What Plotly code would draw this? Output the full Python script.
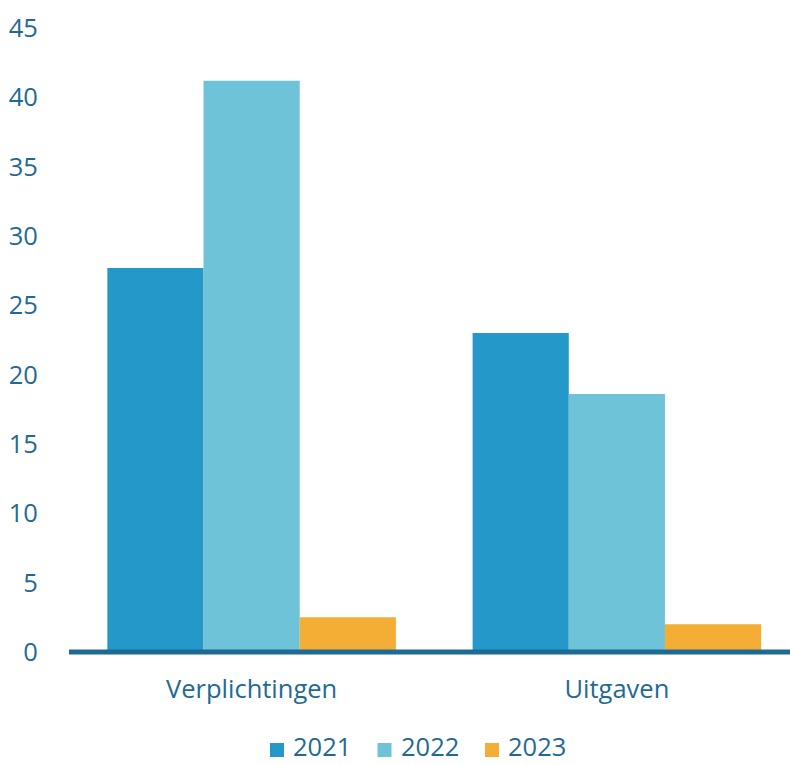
import plotly.graph_objects as go

categories = ["Verplichtingen", "Uitgaven"]
years = ["2021", "2022", "2023"]
values_2021 = [27.7, 23.0]
values_2022 = [41.2, 18.6]
values_2023 = [2.5, 2.0]
y_ticks = [0, 5, 10, 15, 20, 25, 30, 35, 40, 45]

series = [values_2021, values_2022, values_2023]
colors = ["#2499c9", "#6fc3d8", "#f4ae35"]
text_color = "#1f6a94"
font_family = "Open Sans"
font_size = 25.5

W, H = 790, 765
M_L, M_R, M_T, M_B = 69, 0, 28, 113
plot_w = W - M_L - M_R
plot_h = H - M_T - M_B


def px_to_paper(px, py):
    return (px - M_L) / plot_w, (H - M_B - py) / plot_h


fig = go.Figure()
for year, vals, col in zip(years, series, colors):
    fig.add_trace(go.Bar(
        x=categories, y=vals, name=year,
        marker=dict(color=col, line=dict(width=0)),
    ))

fig.update_layout(
    width=W, height=H,
    margin=dict(l=M_L, r=M_R, t=M_T, b=M_B, autoexpand=False),
    paper_bgcolor="white", plot_bgcolor="white",
    barmode="group", bargap=0.21, bargroupgap=0,
    font=dict(family=font_family, color=text_color, size=font_size),
    showlegend=False,
    xaxis=dict(range=[-0.5, 1.474], showgrid=False, zeroline=False,
               showline=False, ticks="outside", ticklen=14,
               tickcolor="rgba(0,0,0,0)",
               tickfont=dict(size=font_size, color=text_color)),
    yaxis=dict(range=[0, 45], tickvals=y_ticks, showgrid=False, zeroline=False,
               showline=False, ticks="outside", ticklen=25,
               tickcolor="rgba(0,0,0,0)",
               tickfont=dict(size=font_size, color=text_color)),
)

# baseline along the bottom of the plot area
fig.add_shape(type="line", xref="paper", yref="paper", x0=0, x1=1, y0=0, y1=0,
              line=dict(color="#1f6a94", width=5), layer="above")

# legend row: colour square followed by the year, resting on the page bottom
legend_x0 = 270
legend_step = 107.5
square = 14
legend_bottom = H
square_cy = 750
for i, (year, col) in enumerate(zip(years, colors)):
    sx = legend_x0 + i * legend_step
    x0, y0 = px_to_paper(sx, square_cy + square / 2)
    x1, y1 = px_to_paper(sx + square, square_cy - square / 2)
    fig.add_shape(type="rect", xref="paper", yref="paper",
                  x0=x0, x1=x1, y0=y0, y1=y1,
                  fillcolor=col, line=dict(width=0))
    tx, ty = px_to_paper(sx + square + 7, legend_bottom)
    fig.add_annotation(xref="paper", yref="paper", x=tx, y=ty,
                       xanchor="left", yanchor="bottom", showarrow=False,
                       text=year, font=dict(size=font_size, color=text_color))

fig.write_html("out.html")
